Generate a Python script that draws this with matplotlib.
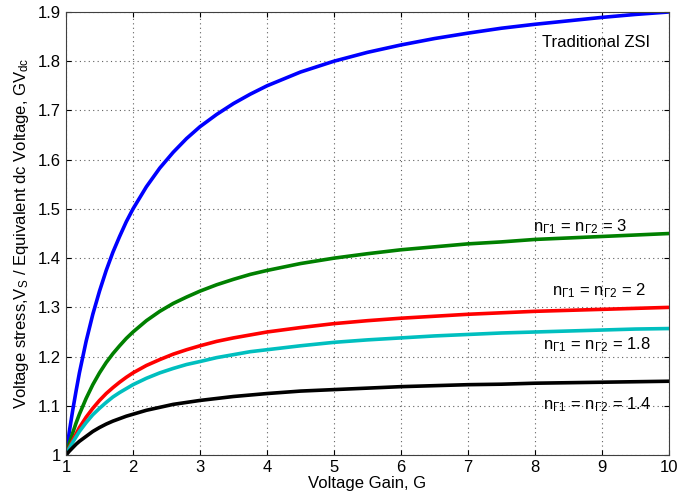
import matplotlib
matplotlib.use("Agg")
import matplotlib.pyplot as plt

plt.rcParams['font.family'] = ['Liberation Sans', 'DejaVu Sans']
plt.rcParams['mathtext.fontset'] = 'custom'
plt.rcParams['mathtext.rm'] = 'Liberation Sans'
plt.rcParams['mathtext.it'] = 'Liberation Sans'

# Gain values (x axis)
gain = [1, 1.05, 1.1, 1.15, 1.2, 1.3, 1.4, 1.5, 1.6, 1.7, 1.8, 1.9, 2, 2.2, 2.4, 2.6, 2.8, 3,
        3.25, 3.5, 3.75, 4, 4.5, 5, 5.5, 6, 6.5, 7, 7.5, 8, 8.5, 9, 9.5, 10]

# Voltage stress / equivalent dc voltage
zsi = [1, 1.048, 1.091, 1.130, 1.167, 1.231, 1.286, 1.333, 1.375, 1.412, 1.444, 1.474, 1.5,
       1.545, 1.583, 1.615, 1.643, 1.667, 1.692, 1.714, 1.733, 1.75, 1.778, 1.8, 1.818, 1.833,
       1.846, 1.857, 1.867, 1.875, 1.882, 1.889, 1.895, 1.9]
n3 = [1, 1.024, 1.045, 1.065, 1.083, 1.115, 1.143, 1.167, 1.188, 1.206, 1.222, 1.237, 1.25,
      1.273, 1.292, 1.308, 1.321, 1.333, 1.346, 1.357, 1.367, 1.375, 1.389, 1.4, 1.409, 1.417,
      1.423, 1.429, 1.433, 1.438, 1.441, 1.444, 1.447, 1.45]
n2 = [1, 1.016, 1.030, 1.043, 1.056, 1.077, 1.095, 1.111, 1.125, 1.137, 1.148, 1.158, 1.167,
      1.182, 1.194, 1.205, 1.214, 1.222, 1.231, 1.238, 1.244, 1.25, 1.259, 1.267, 1.273, 1.278,
      1.282, 1.286, 1.289, 1.292, 1.294, 1.296, 1.298, 1.3]
n18 = [1, 1.014, 1.026, 1.037, 1.048, 1.066, 1.082, 1.095, 1.107, 1.118, 1.127, 1.135, 1.143,
       1.156, 1.167, 1.176, 1.184, 1.190, 1.198, 1.204, 1.210, 1.214, 1.222, 1.229, 1.234, 1.238,
       1.242, 1.245, 1.248, 1.25, 1.252, 1.254, 1.256, 1.257]
n14 = [1, 1.008, 1.015, 1.022, 1.028, 1.038, 1.048, 1.056, 1.063, 1.069, 1.074, 1.079, 1.083,
       1.091, 1.097, 1.103, 1.107, 1.111, 1.115, 1.119, 1.122, 1.125, 1.130, 1.133, 1.136, 1.139,
       1.141, 1.143, 1.144, 1.146, 1.147, 1.148, 1.149, 1.15]

fig = plt.figure(figsize=(6.77, 4.99), dpi=100)
ax = fig.add_axes([0.0975, 0.088, 0.8905, 0.888])

lw = 2.6
ax.plot(gain, zsi, color='#0000FF', lw=lw)
ax.plot(gain, n3, color='#008000', lw=lw)
ax.plot(gain, n2, color='#FF0000', lw=lw)
ax.plot(gain, n18, color='#00BFBF', lw=lw)
ax.plot(gain, n14, color='black', lw=lw)

fs = 12
ax.text(8.1, 1.839, 'Traditional ZSI', fontsize=fs, va='center')
ax.text(7.97, 1.463, r'n$_{\Gamma1}$ = n$_{\Gamma2}$ = 3', fontsize=fs, va='center')
ax.text(8.25, 1.333, r'n$_{\Gamma1}$ = n$_{\Gamma2}$ = 2', fontsize=fs, va='center')
ax.text(8.12, 1.225, r'n$_{\Gamma1}$ = n$_{\Gamma2}$ = 1.8', fontsize=fs, va='center')
ax.text(8.12, 1.103, r'n$_{\Gamma1}$ = n$_{\Gamma2}$ = 1.4', fontsize=fs, va='center')

ax.set_xlim(1, 10)
ax.set_ylim(1, 1.9)
ax.set_xticks(range(1, 11))
ax.set_yticks([1, 1.1, 1.2, 1.3, 1.4, 1.5, 1.6, 1.7, 1.8, 1.9])
ax.set_yticklabels(['1', '1.1', '1.2', '1.3', '1.4', '1.5', '1.6', '1.7', '1.8', '1.9'])
ax.tick_params(direction='in', labelsize=fs, top=True, right=True)
ax.grid(True, linestyle=(0, (1, 3)), color='#606060', linewidth=0.8)
for s in ax.spines.values():
    s.set_color('#404040')

ax.set_xlabel('Voltage Gain, G', fontsize=fs, labelpad=1)
ax.set_ylabel(r'Voltage stress,V$_S$ / Equivalent dc Voltage, GV$_{dc}$', fontsize=fs, labelpad=5)

fig.savefig('out.png', dpi=100)
